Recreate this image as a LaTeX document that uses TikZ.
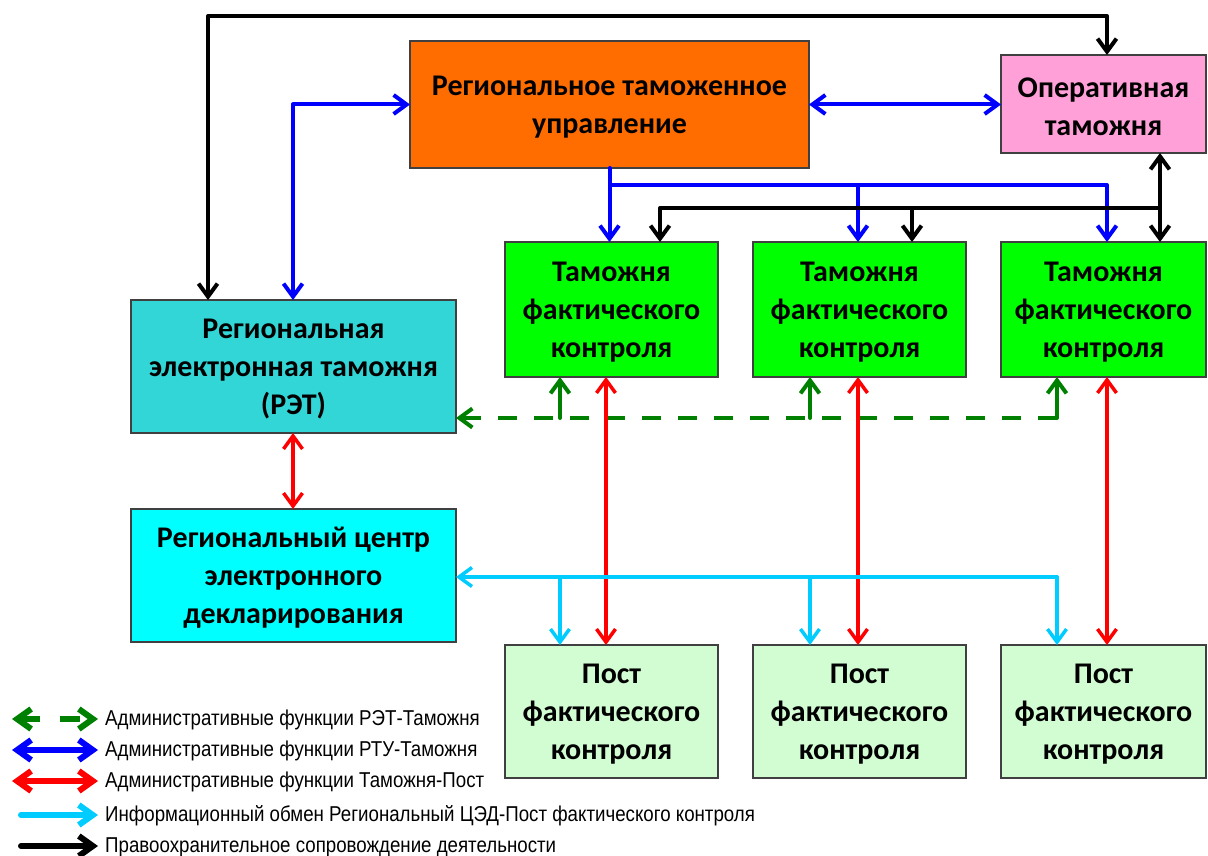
\documentclass[tikz,border=0pt]{standalone}
\usepackage{fontspec}
\usetikzlibrary{arrows.meta}
\newfontfamily\boxfont{Carlito}
\newfontfamily\legfont[FakeStretch=0.87]{Liberation Sans}
\newcommand\firstln{\rule{0pt}{25pt}}
\definecolor{rtuor}{HTML}{FF6D00}
\definecolor{oppink}{HTML}{FFA0D8}
\definecolor{retteal}{HTML}{33D6D6}
\definecolor{cedcyan}{HTML}{00FFFF}
\definecolor{tamgreen}{HTML}{00FF00}
\definecolor{postgreen}{HTML}{D2FCD2}
\definecolor{ablue}{HTML}{0000FF}
\definecolor{agreen}{HTML}{008000}
\definecolor{ared}{HTML}{FF0000}
\definecolor{acyan}{HTML}{00CCFF}
\tikzset{
  box/.style={draw=black!75, line width=1.2pt, inner sep=0pt, outer sep=0pt,
    anchor=north west, align=center,
    font={\boxfont\bfseries\fontsize{30}{38}\selectfont}},
  conn/.style={line width=4pt, line cap=round, line join=round},
  bluec/.style={conn, draw=ablue},
  blackc/.style={conn, draw=black},
  redc/.style={conn, draw=ared, line width=3.5pt},
  cyanc/.style={conn, draw=acyan, line width=3.5pt},
  greenc/.style={conn, draw=agreen},
  greend/.style={greenc, line cap=butt, dash pattern=on 19pt off 17pt},
  legarrow/.style={line width=6pt, line cap=round, line join=round,
    >={Straight Barb[length=14pt,width=20pt]}},
  legtext/.style={anchor=west, inner sep=0pt, font={\legfont\fontsize{21.5}{23}\selectfont}},
}
\begin{document}
\begin{tikzpicture}[x=1pt, y=-1pt, >={Straight Barb[length=13pt,width=19pt]}]
\useasboundingbox (0,0) rectangle (1208,856);

% boxes
\node[box, fill=rtuor, minimum width=399pt, minimum height=127pt] (rtu) at (410,41)
  {\firstln Региональное таможенное\\управление};
\node[box, fill=oppink, minimum width=205pt, minimum height=98pt] (op) at (1001,55)
  {\firstln Оперативная\\таможня};
\node[box, fill=retteal, minimum width=325pt, minimum height=133pt] (ret) at (131,300)
  {\firstln Региональная\\электронная таможня\\(РЭТ)};
\node[box, fill=cedcyan, minimum width=325pt, minimum height=133pt] (ced) at (131,509)
  {\firstln Региональный центр\\электронного\\декларирования};
\node[box, fill=tamgreen, minimum width=213pt, minimum height=135pt] (t1) at (505,242)
  {\firstln Таможня\\фактического\\контроля};
\node[box, fill=tamgreen, minimum width=213pt, minimum height=135pt] (t2) at (753,242)
  {\firstln Таможня\\фактического\\контроля};
\node[box, fill=tamgreen, minimum width=205pt, minimum height=135pt] (t3) at (1001,242)
  {\firstln Таможня\\фактического\\контроля};
\node[box, fill=postgreen, minimum width=213pt, minimum height=133pt] (p1) at (505,645)
  {\firstln Пост\\фактического\\контроля};
\node[box, fill=postgreen, minimum width=213pt, minimum height=133pt] (p2) at (753,645)
  {\firstln Пост\\фактического\\контроля};
\node[box, fill=postgreen, minimum width=205pt, minimum height=133pt] (p3) at (1001,645)
  {\firstln Пост\\фактического\\контроля};

% helper coordinates
\coordinate (topL) at (208,16);
\coordinate (topR) at (1107,16);
\coordinate (bx) at (293,0);
\coordinate (bj) at (0,185);
\coordinate (kj) at (1160,208);
\coordinate (k1) at (660,208);
\coordinate (k2) at (912,208);
\coordinate (g1) at (560,418);
\coordinate (g2) at (810,418);
\coordinate (g3) at (1057,418);
\coordinate (r1) at (606,0);
\coordinate (r2) at (858,0);
\coordinate (r3) at (1107,0);
\coordinate (c1) at (560,577);
\coordinate (c2) at (810,577);
\coordinate (c3) at (1057,577);

% black loop RET - Operativnaya
\draw[blackc, <->] (ret.north -| topL) -- (topL) -- (topR) -- (op.north -| topR);
% blue RTU - RET
\draw[bluec, <->] (rtu.west) -| (ret.north -| bx);
% blue RTU - Operativnaya
\draw[bluec, <->] (rtu.east) -- (op.west |- rtu.east);
% blue tree RTU - customs
\draw[bluec, ->] (rtu.south) -- (rtu.south |- bj) -| (t3.north -| topR);
\draw[bluec, ->] (rtu.south |- bj) -- (t1.north -| rtu.south);
\draw[bluec, ->] (r2 |- bj) -- (t2.north -| r2);
% black tree Operativnaya - customs
\draw[blackc, <->] (op.south -| kj) -- (t3.north -| kj);
\draw[blackc, ->] (kj) -- (k1) -- (t1.north -| k1);
\draw[blackc, ->] (k2) -- (t2.north -| k2);
% green dashed RET - customs
\draw[greend, ->] (g3) -- (ret.east |- g3);
\draw[greenc, ->] (g1) -- (t1.south -| g1);
\draw[greenc, ->] (g2) -- (t2.south -| g2);
\draw[greenc, ->] (g3) -- (t3.south -| g3);
% red customs - posts
\draw[redc, <->] (t1.south -| r1) -- (p1.north -| r1);
\draw[redc, <->] (t2.south -| r2) -- (p2.north -| r2);
\draw[redc, <->] (t3.south -| r3) -- (p3.north -| r3);
\draw[redc, <->] (ret.south -| bx) -- (ced.north -| bx);
% cyan CED - posts
\draw[cyanc, ->] (c3) -- (ced.east |- c3);
\draw[cyanc, ->] (c1) -- (p1.north -| c1);
\draw[cyanc, ->] (c2) -- (p2.north -| c2);
\draw[cyanc, ->] (c3) -- (p3.north -| c3);

% legend
\coordinate (lg1a) at (12,719); \coordinate (lg1b) at (98,719);
\coordinate (lg2a) at (12,750); \coordinate (lg2b) at (98,750);
\coordinate (lg3a) at (12,781); \coordinate (lg3b) at (98,781);
\coordinate (lg4a) at (21,815); \coordinate (lg4b) at (98,815);
\coordinate (lg5a) at (21,846); \coordinate (lg5b) at (98,846);
\draw[legarrow, draw=agreen, line cap=butt, dash pattern=on 20pt off 20pt, <->] (lg1a) -- (lg1b);
\draw[legarrow, draw=ablue, <->] (lg2a) -- (lg2b);
\draw[legarrow, draw=ared, <->] (lg3a) -- (lg3b);
\draw[legarrow, draw=acyan, ->] (lg4a) -- (lg4b);
\draw[legarrow, draw=black, ->] (lg5a) -- (lg5b);
\node[legtext] (l1) at (105,720) {Административные функции РЭТ-Таможня};
\node[legtext] (l2) at (105,751) {Административные функции РТУ-Таможня};
\node[legtext] (l3) at (105,782) {Административные функции Таможня-Пост};
\node[legtext] (l4) at (105,816) {Информационный обмен Региональный ЦЭД-Пост фактического контроля};
\node[legtext] (l5) at (105,847) {Правоохранительное сопровождение деятельности};
\end{tikzpicture}
\end{document}
